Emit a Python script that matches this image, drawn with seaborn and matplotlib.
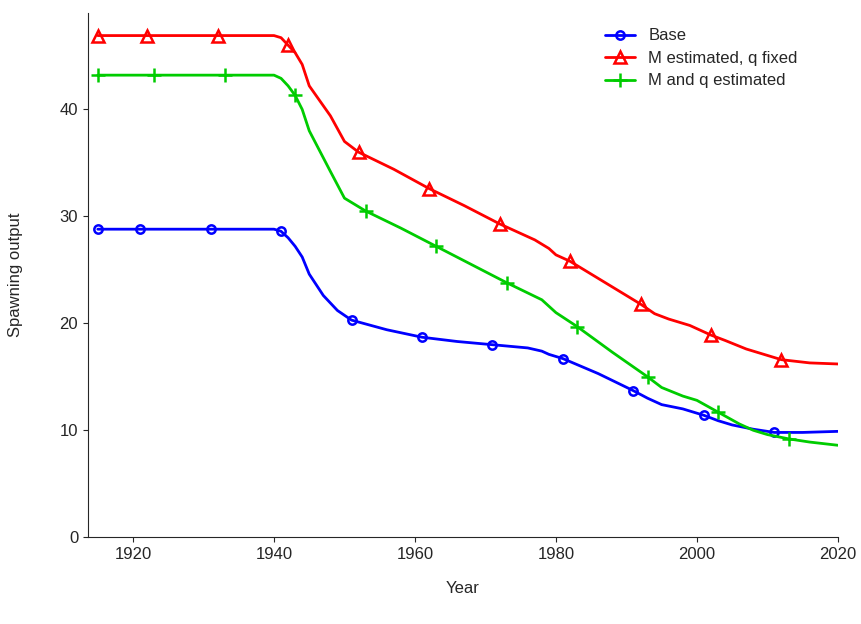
import matplotlib
matplotlib.use("Agg")
import matplotlib.pyplot as plt
import seaborn as sns
import pandas as pd

sns.set_style("ticks")
plt.rcParams['font.family'] = ['Liberation Sans', 'DejaVu Sans']

base_yr = [1915,1940,1941,1942,1943,1944,1945,1947,1949,1951,1956,1961,1966,1971,1976,1978,1979,1981,1986,1991,1993,1995,1998,2001,2003,2005,2008,2011,2015,2020]
base_v  = [28.8,28.8,28.6,28.0,27.2,26.2,24.6,22.6,21.2,20.3,19.4,18.7,18.3,18.0,17.7,17.4,17.1,16.7,15.3,13.7,13.0,12.4,12.0,11.4,10.9,10.5,10.1,9.8,9.8,9.9]
red_yr  = [1915,1940,1941,1942,1943,1944,1945,1948,1950,1952,1957,1962,1967,1972,1977,1979,1980,1982,1987,1992,1994,1996,1999,2002,2004,2007,2010,2012,2016,2020]
red_v   = [46.9,46.9,46.7,46.0,45.3,44.2,42.2,39.4,37.0,36.0,34.4,32.6,31.0,29.3,27.8,27.0,26.4,25.8,23.8,21.8,20.9,20.4,19.8,18.9,18.4,17.6,17.0,16.6,16.3,16.2]
grn_yr  = [1915,1940,1941,1942,1943,1944,1945,1948,1950,1953,1958,1963,1968,1973,1978,1980,1983,1988,1993,1995,1998,2000,2003,2006,2008,2010,2013,2016,2020]
grn_v   = [43.2,43.2,42.9,42.2,41.3,40.0,38.0,34.2,31.7,30.5,28.9,27.2,25.5,23.8,22.2,21.0,19.7,17.3,15.0,14.0,13.2,12.8,11.7,10.6,10.0,9.6,9.2,8.9,8.6]

mk_base_yr = [1915,1921,1931,1941,1951,1961,1971,1981,1991,2001,2011]
mk_base_v  = [28.8,28.8,28.8,28.6,20.3,18.7,18.0,16.7,13.7,11.4,9.8]
mk_red_yr  = [1915,1922,1932,1942,1952,1962,1972,1982,1992,2002,2012]
mk_red_v   = [46.9,46.9,46.9,46.0,36.0,32.6,29.3,25.8,21.8,18.9,16.6]
mk_grn_yr  = [1915,1923,1933,1943,1953,1963,1973,1983,1993,2003,2013]
mk_grn_v   = [43.2,43.2,43.2,41.3,30.5,27.2,23.8,19.7,15.0,11.7,9.2]

fig = plt.figure(figsize=(8.62, 6.24), dpi=100)
ax = fig.add_axes([0.102, 0.139, 0.870, 0.840])

series = [("Base", base_yr, base_v, mk_base_yr, mk_base_v, "#0000ff", "o", 6),
          ("M estimated, q fixed", red_yr, red_v, mk_red_yr, mk_red_v, "#ff0000", "^", 8),
          ("M and q estimated", grn_yr, grn_v, mk_grn_yr, mk_grn_v, "#00cc00", "+", 10)]
for name, yr, v, myr, mv, c, m, ms in series:
    sns.lineplot(x=yr, y=v, ax=ax, color=c, lw=2, sort=False)
    ax.plot(myr, mv, ls="none", marker=m, ms=ms, mfc="none", mec=c, mew=1.8)
    ax.plot([], [], color=c, lw=2, marker=m, ms=ms, mfc="none", mec=c, mew=1.8, label=name)

ax.set_xlim(1913.6, 2020)
ax.set_ylim(0, 49)
ax.set_xticks([1920,1940,1960,1980,2000,2020])
ax.set_yticks([0,10,20,30,40])
ax.tick_params(labelsize=12)
ax.set_xlabel("Year", fontsize=12, labelpad=14)
ax.set_ylabel("Spawning output", fontsize=12, labelpad=26)
sns.despine(ax=ax)
ax.legend(loc="upper right", frameon=False, fontsize=12, handlelength=1.8, borderaxespad=0.2,
          bbox_to_anchor=(0.96, 0.99), labelspacing=0.45)
fig.savefig("out.png", dpi=100)
